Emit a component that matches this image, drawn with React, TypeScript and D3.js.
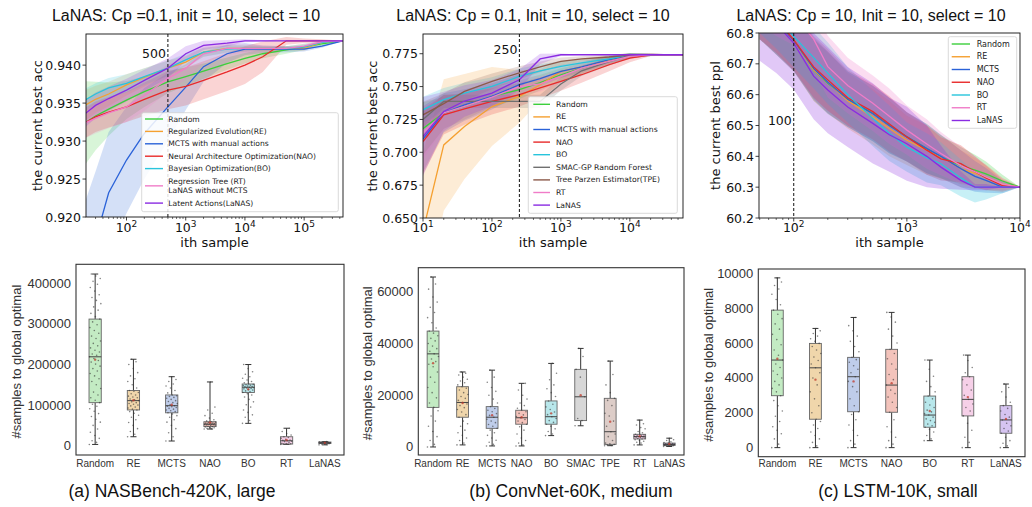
import React from 'react'
import * as d3 from 'd3'

// ---------- colours ----------
const cRandom = '#3ccf3c'
const cRE = '#f5a030'
const cMCTS = '#2a62d8'
const cNAO = '#e82a2a'
const cBO = '#28c4dc'
const cRT = '#f07cc8'
const cLaNAS = '#8a2be2'
const cSMAC = '#707070'
const cTPE = '#8c5a4a'

// ---------- (a) NASBench curves ----------
const nasSamples = [20, 30, 50, 100, 200, 500, 1000, 2000, 5000, 1e4, 2e4, 5e4, 1e5, 2e5, 4.5e5]
const nasRandom = [0.9324, 0.9333, 0.9342, 0.9354, 0.9365, 0.9378, 0.9385, 0.9392, 0.9402, 0.9409, 0.9415, 0.9420, 0.9424, 0.9428, 0.9432]
const nasRE = [0.9347, 0.9355, 0.9362, 0.9374, 0.9384, 0.9396, 0.9404, 0.9417, 0.9422, 0.9422, 0.9422, 0.9422, 0.9422, 0.9430, 0.9432]
const nasMCTS = [0.912, 0.917, 0.9232, 0.9275, 0.931, 0.9345, 0.9371, 0.9398, 0.9415, 0.9421, 0.9421, 0.9421, 0.9421, 0.9425, 0.9432]
const nasNAO = [0.9324, 0.9332, 0.9338, 0.9345, 0.9355, 0.9367, 0.9372, 0.9380, 0.9391, 0.9400, 0.9411, 0.9432, 0.9432, 0.9432, 0.9432]
const nasBO = [0.9354, 0.9362, 0.9370, 0.9376, 0.9385, 0.9396, 0.9407, 0.9417, 0.9421, 0.9422, 0.9422, 0.9422, 0.9424, 0.9430, 0.9432]
const nasRT = [0.9324, 0.9330, 0.9337, 0.9345, 0.9360, 0.93825, 0.9396, 0.9415, 0.9422, 0.9422, 0.9422, 0.9422, 0.9425, 0.9431, 0.9432]
const nasLaNAS = [0.9336, 0.9347, 0.9356, 0.9367, 0.9380, 0.9396, 0.9415, 0.9426, 0.9429, 0.9432, 0.9432, 0.9432, 0.9432, 0.9432, 0.9432]
const nasRandomSd = [0.0055, 0.0045, 0.0035, 0.0025, 0.002, 0.0015, 0.0012, 0.001, 0.0008, 0.0007, 0.0006, 0.0005, 0.0004, 0.0003, 0]
const nasRESd = [0.002, 0.0018, 0.0016, 0.0014, 0.0012, 0.001, 0.0008, 0.0006, 0.0005, 0.0004, 0.0003, 0.0003, 0.0003, 0.0002, 0]
const nasMCTSSd = [0.01, 0.009, 0.008, 0.007, 0.006, 0.0045, 0.003, 0.002, 0.0012, 0.0008, 0.0005, 0.0004, 0.0003, 0.0002, 0]
const nasNAOSd = [0.002, 0.002, 0.002, 0.002, 0.0022, 0.0025, 0.0025, 0.0025, 0.0025, 0.0025, 0.002, 0.0005, 0.0003, 0.0002, 0]
const nasBOSd = [0.0015, 0.0014, 0.0013, 0.0012, 0.0011, 0.001, 0.0008, 0.0006, 0.0005, 0.0004, 0.0003, 0.0003, 0.0003, 0.0002, 0]
const nasRTSd = [0.002, 0.002, 0.002, 0.002, 0.002, 0.0018, 0.0015, 0.0012, 0.0008, 0.0006, 0.0004, 0.0003, 0.0003, 0.0002, 0]
const nasLaNASSd = [0.0018, 0.0017, 0.0016, 0.0015, 0.0014, 0.0013, 0.001, 0.0006, 0.0004, 0.0002, 0.0001, 0, 0, 0, 0]

// ---------- (b) ConvNet curves ----------
const convSamples = [10, 20, 40, 100, 250, 500, 1000, 2000, 5000, 10000, 20000, 60000]
const convRandom = [0.718, 0.730, 0.735, 0.7425, 0.7476, 0.753, 0.759, 0.764, 0.770, 0.7735, 0.774, 0.7742]
const convRE = [0.640, 0.7056, 0.7196, 0.7348, 0.7425, 0.7514, 0.7615, 0.765, 0.770, 0.7735, 0.7742, 0.7742]
const convMCTS = [0.710, 0.730, 0.736, 0.7425, 0.7514, 0.756, 0.7615, 0.765, 0.7705, 0.7735, 0.7742, 0.7742]
const convNAO = [0.7082, 0.7285, 0.733, 0.7387, 0.7438, 0.749, 0.7539, 0.759, 0.7666, 0.7716, 0.7742, 0.7742]
const convBO = [0.7323, 0.740, 0.745, 0.7501, 0.7577, 0.762, 0.7653, 0.768, 0.771, 0.7742, 0.7742, 0.7742]
const convSMAC = [0.725, 0.7387, 0.7387, 0.7387, 0.7387, 0.7387, 0.752, 0.762, 0.769, 0.7735, 0.7742, 0.7742]
const convTPE = [0.7285, 0.737, 0.7463, 0.754, 0.7605, 0.765, 0.7691, 0.771, 0.7725, 0.774, 0.7742, 0.7742]
const convRT = [0.715, 0.730, 0.735, 0.742, 0.750, 0.752, 0.7577, 0.764, 0.7691, 0.773, 0.7742, 0.7742]
const convLaNAS = [0.712, 0.7311, 0.739, 0.745, 0.7552, 0.771, 0.7742, 0.7742, 0.7742, 0.7742, 0.7742, 0.7742]
const convRandomSd = [0.02, 0.012, 0.01, 0.008, 0.007, 0.006, 0.005, 0.004, 0.003, 0.002, 0.001, 0]
const convRESd = [0.06, 0.05, 0.04, 0.03, 0.02, 0.012, 0.008, 0.006, 0.004, 0.002, 0.001, 0]
const convMCTSSd = [0.025, 0.015, 0.012, 0.01, 0.008, 0.006, 0.005, 0.004, 0.003, 0.002, 0.001, 0]
const convNAOSd = [0.025, 0.015, 0.012, 0.01, 0.009, 0.008, 0.007, 0.006, 0.005, 0.003, 0.001, 0]
const convBOSd = [0.01, 0.009, 0.008, 0.007, 0.006, 0.005, 0.004, 0.003, 0.002, 0.001, 0.0005, 0]
const convSMACSd = [0.006, 0.005, 0.005, 0.005, 0.005, 0.005, 0.005, 0.004, 0.003, 0.002, 0.001, 0]
const convTPESd = [0.01, 0.008, 0.007, 0.006, 0.005, 0.004, 0.003, 0.002, 0.002, 0.001, 0.0005, 0]
const convRTSd = [0.02, 0.012, 0.01, 0.008, 0.007, 0.006, 0.005, 0.004, 0.003, 0.002, 0.001, 0]
const convLaNASSd = [0.03, 0.015, 0.012, 0.01, 0.008, 0.004, 0.001, 0, 0, 0, 0, 0]

// ---------- (c) LSTM curves ----------
const lstmSamples = [50, 70, 100, 150, 200, 300, 500, 700, 1000, 1500, 2000, 3000, 4000, 5000, 7000, 10000]
const lstmRandom = [60.90, 60.84, 60.778, 60.68, 60.637, 60.585, 60.539, 60.50, 60.463, 60.425, 60.398, 60.37, 60.355, 60.343, 60.32, 60.30]
const lstmRE = [60.90, 60.84, 60.775, 60.68, 60.64, 60.58, 60.528, 60.49, 60.452, 60.42, 60.398, 60.36, 60.345, 60.333, 60.31, 60.30]
const lstmMCTS = [60.90, 60.84, 60.775, 60.685, 60.64, 60.585, 60.539, 60.50, 60.463, 60.425, 60.40, 60.36, 60.335, 60.322, 60.30, 60.30]
const lstmNAO = [60.90, 60.845, 60.778, 60.69, 60.648, 60.59, 60.545, 60.505, 60.463, 60.42, 60.392, 60.376, 60.35, 60.33, 60.305, 60.30]
const lstmBO = [60.92, 60.86, 60.789, 60.72, 60.67, 60.60, 60.523, 60.475, 60.43, 60.395, 60.376, 60.33, 60.30, 60.30, 60.30, 60.30]
const lstmRT = [60.95, 60.90, 60.86, 60.78, 60.691, 60.63, 60.572, 60.53, 60.485, 60.44, 60.409, 60.37, 60.35, 60.333, 60.31, 60.30]
const lstmLaNAS = [60.88, 60.83, 60.767, 60.66, 60.615, 60.56, 60.507, 60.47, 60.441, 60.40, 60.365, 60.322, 60.30, 60.30, 60.30, 60.30]
const lstmSd = [0.12, 0.11, 0.1, 0.1, 0.1, 0.09, 0.09, 0.09, 0.08, 0.08, 0.07, 0.06, 0.05, 0.04, 0.02, 0]
const lstmLaNASSd = [0.17, 0.16, 0.15, 0.14, 0.14, 0.13, 0.13, 0.12, 0.12, 0.1, 0.07, 0.03, 0.01, 0.01, 0, 0]

// ---------- bottom row: samples to global optimal ----------
// stats are [min, q1, median, q3, max]
const nasCats = ['Random', 'RE', 'MCTS', 'NAO', 'BO', 'RT', 'LaNAS']
const nasStats = [
  [3000, 106000, 219000, 312000, 423000],
  [22000, 88000, 111000, 136000, 213000],
  [11500, 81000, 98500, 125000, 170000],
  [41000, 47000, 53000, 59000, 157000],
  [55000, 131000, 144000, 152000, 200000],
  [3000, 4000, 12000, 22000, 43000],
  [2000, 5500, 7000, 9000, 10000],
]
const nasMeans = [212000, 112000, 101000, 57000, 139000, 14000, 7000]
const nasPoints = [
  [3000, 8000, 12000, 18000, 25000, 33000, 41000, 50000, 58000, 65000, 72000, 79000, 85000, 91000, 97000, 102000,
    106000, 112000, 118000, 125000, 132000, 141000, 150000, 158000, 165000, 172000, 178000, 184000, 190000, 196000, 201000, 206000, 210000, 215000,
    219000, 223000, 226000, 231000, 235000, 241000, 246000, 252000, 258000, 264000, 270000, 277000, 284000, 291000, 298000, 305000,
    312000, 318000, 326000, 334000, 342000, 350000, 358000, 365000, 372000, 381000, 390000, 398000, 405000, 412000, 418000, 423000],
  [22000, 28000, 35000, 42000, 50000, 57000, 64000, 70000, 75000, 80000, 84000, 88000, 90000, 93000, 95000, 98000, 100000, 102000, 104000, 106000, 108000,
    111000, 113000, 115000, 118000, 120000, 122000, 125000, 128000, 131000, 134000, 136000, 142000, 150000, 158000, 165000, 172000, 180000, 190000, 200000, 207000, 213000],
  [11500, 22000, 32000, 42000, 50000, 58000, 64000, 70000, 74000, 78000, 81000, 84000, 86000, 88000, 90000, 92000, 94000, 96000, 97000, 98500,
    101000, 104000, 106000, 109000, 111000, 114000, 117000, 119000, 121000, 123000, 125000, 130000, 136000, 142000, 147000, 152000, 158000, 163000, 170000],
  [41000, 42000, 43000, 44000, 45000, 46000, 47000, 48000, 49000, 50000, 51000, 51500, 52000, 52500, 53000, 53500, 54000, 55000, 55500, 56000,
    57000, 58000, 59000, 61000, 64000, 68000, 74000, 80000, 88000, 95000, 157000],
  [55000, 62000, 70000, 76000, 82000, 88000, 95000, 101000, 108000, 114000, 120000, 125000, 128000, 131000, 133000, 135000, 137000, 138000, 140000, 141000,
    142000, 143000, 144000, 145000, 146000, 147000, 148000, 149000, 150000, 151000, 152000, 155000, 158000, 162000, 166000, 170000, 176000, 182000, 190000, 200000],
  [3000, 3500, 4000, 4500, 5000, 6000, 8000, 10000, 11000, 12000, 13000, 14000, 16000, 18000, 20000, 22000, 26000, 30000, 35000, 43000],
  [2000, 3000, 4000, 5000, 5500, 6000, 6500, 7000, 7200, 7500, 8000, 8500, 9000, 9500, 10000],
]

const convCats = ['Random', 'RE', 'MCTS', 'NAO', 'BO', 'SMAC', 'TPE', 'RT', 'LaNAS']
const convStats = [
  [0, 15300, 36000, 44800, 65700],
  [800, 11500, 17200, 23300, 29000],
  [400, 7200, 11500, 15600, 29700],
  [400, 8800, 11300, 14200, 24600],
  [4400, 8800, 11700, 17800, 32300],
  [8200, 10200, 19400, 30000, 38100],
  [500, 1000, 5900, 18800, 33200],
  [800, 3100, 4000, 4900, 10400],
  [200, 600, 1000, 1500, 3400],
]
const convMeans = [32400, 17000, 12300, 11500, 13000, 20000, 9800, 4200, 1200]
const convPoints = [
  [0, 1000, 2500, 4000, 6000, 8000, 10000, 12000, 14000, 15300, 17000, 19000, 21000, 23000, 25000, 27000, 29000, 31000, 32000, 33000, 34000, 35000,
    36000, 37000, 38000, 39000, 40000, 41000, 42000, 43000, 44000, 44800, 46000, 48000, 50000, 52000, 54000, 56000, 58000, 61000, 63000, 65700],
  [800, 1500, 2500, 3500, 4500, 5500, 6500, 8000, 9000, 10000, 11500, 12500, 13500, 14500, 15200, 16000, 16600, 17200, 18000, 18800, 19500,
    20300, 21000, 22000, 22700, 23300, 24000, 24800, 25500, 26200, 27000, 27800, 28500, 29000],
  [400, 1000, 1800, 2600, 3500, 4500, 5500, 6500, 7200, 8000, 8700, 9400, 10000, 10700, 11500, 12200, 12900, 13600, 14200, 14900, 15600,
    17000, 18500, 20000, 21500, 23000, 25000, 27000, 29700],
  [400, 800, 1500, 2500, 3500, 5000, 6500, 7800, 8800, 9400, 10000, 10600, 11300, 11800, 12400, 13000, 13600, 14200, 15000, 16000, 17000,
    18500, 20000, 22000, 24600],
  [4400, 5000, 6000, 7000, 8000, 8800, 9500, 10200, 11000, 11700, 12500, 13500, 14500, 15500, 16500, 17800, 19500, 21000, 22500, 24000, 26000, 28500, 32300],
  [8200, 10200, 11000, 19400, 27000, 30000, 35000, 38100],
  [500, 600, 800, 1000, 1200, 1500, 2500, 4000, 5000, 5900, 8000, 10000, 12000, 13000, 16000, 18000, 18800, 21000, 24000, 28000, 33200],
  [800, 1500, 1800, 2200, 2500, 2800, 3100, 3300, 3500, 3700, 3800, 3900, 4000, 4100, 4300, 4500, 4600, 4800, 4900, 5500, 6000, 7000, 7500, 8500, 9000, 10400],
  [200, 300, 400, 500, 600, 700, 800, 900, 1000, 1100, 1200, 1300, 1500, 1700, 2000, 2500, 2800, 3400],
]

const lstmCats = ['Random', 'RE', 'MCTS', 'NAO', 'BO', 'RT', 'LaNAS']
const lstmStats = [
  [0, 2980, 5025, 7890, 9740],
  [0, 1630, 4580, 5980, 6840],
  [0, 2060, 4070, 5180, 7470],
  [0, 2030, 3590, 5640, 7760],
  [400, 1170, 1870, 2960, 5025],
  [0, 1820, 2770, 4070, 5310],
  [0, 825, 1590, 2410, 3650],
]
const lstmMeans = [5100, 3900, 3800, 3700, 2100, 2900, 1650]
const lstmPoints = [
  [0, 200, 500, 800, 1000, 1200, 1500, 1800, 2100, 2400, 2700, 2980, 3200, 3400, 3600, 3800, 4000, 4200, 4400, 4600, 4800,
    5025, 5300, 5600, 5900, 6200, 6500, 6800, 7100, 7400, 7650, 7890, 8200, 8500, 8800, 9100, 9300, 9500, 9740],
  [0, 100, 300, 500, 700, 900, 1100, 1300, 1500, 1630, 2000, 2400, 2800, 3200, 3600, 4000, 4300, 4580, 4800, 5000, 5200, 5400, 5600,
    5800, 5980, 6100, 6250, 6400, 6550, 6700, 6840],
  [0, 200, 400, 700, 1000, 1300, 1600, 1900, 2060, 2400, 2800, 3200, 3500, 3800, 4070, 4300, 4500, 4700, 4900, 5050, 5180,
    5500, 5800, 6100, 6400, 6700, 7000, 7470],
  [0, 200, 400, 600, 900, 1200, 1600, 2030, 2300, 2600, 2900, 3100, 3300, 3590, 3900, 4200, 4500, 4800, 5100, 5400, 5640,
    6000, 6400, 6800, 7200, 7500, 7760],
  [400, 500, 700, 900, 1050, 1170, 1250, 1350, 1450, 1550, 1650, 1750, 1870, 1950, 2050, 2150, 2300, 2450, 2600, 2800, 2960,
    3200, 3500, 3800, 4100, 4500, 5025],
  [0, 300, 600, 1000, 1400, 1820, 2100, 2300, 2500, 2770, 3000, 3300, 3600, 3900, 4070, 4300, 4600, 5000, 5310],
  [0, 100, 250, 400, 600, 825, 950, 1100, 1250, 1400, 1590, 1750, 1900, 2100, 2250, 2410, 2600, 2900, 3200, 3450, 3650],
]

const boxFill: Record<string, string> = {
  Random: '#c3ebc3', RE: '#f0d6ab', MCTS: '#bfcdea', NAO: '#f3c3bb', BO: '#b8e7eb',
  RT: '#f6d0e8', LaNAS: '#d6c4f1', SMAC: '#d7d7d7', TPE: '#ddcdc8',
}

const DJ = '"DejaVu Sans", sans-serif'
const AR = '"Liberation Sans", Arial, sans-serif'

function LinePanel({ p }: any) {
  const x = d3.scaleLog().domain(p.xDomain).range([p.left, p.right])
  const y = d3.scaleLinear().domain(p.yDomain).range([p.bottom, p.top])
  const lineGen = d3.line<number>().x((_, i) => x(p.samples[i])).y(m => y(m))
  const areaGen = (s: any) => d3.area<number>()
    .x((_, i) => x(p.samples[i]))
    .y0((m, i) => y(m - s.spread[i]))
    .y1((m, i) => y(m + s.spread[i]))(s.mean)

  const lo = Math.log10(p.xDomain[0]), hi = Math.log10(p.xDomain[1])
  const majors: number[] = []
  const minors: number[] = []
  for (let e = Math.floor(lo); e <= Math.floor(hi); e++) {
    if (e >= lo - 1e-9) majors.push(e)
    for (let k = 2; k <= 9; k++) {
      const v = k * Math.pow(10, e)
      if (v >= p.xDomain[0] && v <= p.xDomain[1]) minors.push(v)
    }
  }
  const L = p.legend
  let cursor = L.firstY - L.step / 2
  const rows = p.series.map((s: any) => {
    const h = L.step + (s.name.length - 1) * L.lineH
    const c = cursor + h / 2
    cursor += h
    return { s, c }
  })

  return (
    <g>
      <defs>
        <clipPath id={p.id}>
          <rect x={p.left} y={p.top} width={p.right - p.left} height={p.bottom - p.top} />
        </clipPath>
      </defs>
      <text x={p.titleX} y={21} textAnchor="middle" fontFamily={AR} fontSize={16} fill="#111">{p.title}</text>
      <g clipPath={`url(#${p.id})`}>
        {p.series.map((s: any, i: number) => (
          <path key={'a' + i} d={areaGen(s) || ''} fill={s.color} fillOpacity={p.bandOpacity} stroke="none" />
        ))}
        {p.series.map((s: any, i: number) => (
          <path key={'l' + i} d={lineGen(s.mean) || ''} fill="none" stroke={s.color} strokeWidth={1.3} />
        ))}
      </g>
      <line x1={x(p.marker.x)} x2={x(p.marker.x)} y1={p.top} y2={p.bottom} stroke="#111" strokeWidth={1} strokeDasharray="3,2" />
      <text x={x(p.marker.x) - 2} y={p.marker.labelY} textAnchor="end" fontFamily={DJ} fontSize={12.5} fill="#111">{p.marker.label}</text>
      <rect x={p.left} y={p.top} width={p.right - p.left} height={p.bottom - p.top} fill="none" stroke="#111" strokeWidth={0.9} />
      {/* legend */}
      <rect x={L.x} y={L.y} width={L.w} height={L.h} rx={2} fill="#fff" fillOpacity={0.85} stroke="#d0d0d0" strokeWidth={0.8} />
      {rows.map(({ s, c }: any, i: number) => (
        <g key={'g' + i}>
          <line x1={L.lineX0} x2={L.lineX1} y1={c} y2={c} stroke={s.color} strokeWidth={1.4} />
          {s.name.map((t: string, j: number) => (
            <text key={j} x={L.textX} y={c + (j - (s.name.length - 1) / 2) * L.lineH} dominantBaseline="central"
              fontFamily={DJ} fontSize={L.font} fill="#222">{t}</text>
          ))}
        </g>
      ))}
      {/* y axis */}
      {p.yTicks.map((t: number) => (
        <g key={'y' + t}>
          <line x1={p.left - 3.5} x2={p.left} y1={y(t)} y2={y(t)} stroke="#111" strokeWidth={0.8} />
          <text x={p.left - 5} y={y(t)} dominantBaseline="central" textAnchor="end" fontFamily={DJ} fontSize={12.5} fill="#111">{p.yFmt(t)}</text>
        </g>
      ))}
      {/* x axis */}
      {minors.map(v => (
        <line key={'m' + v} x1={x(v)} x2={x(v)} y1={p.bottom} y2={p.bottom + 2} stroke="#111" strokeWidth={0.6} />
      ))}
      {majors.map(e => (
        <g key={'x' + e}>
          <line x1={x(Math.pow(10, e))} x2={x(Math.pow(10, e))} y1={p.bottom} y2={p.bottom + 3.5} stroke="#111" strokeWidth={0.8} />
          <text x={x(Math.pow(10, e))} y={231.5} textAnchor="middle" fontFamily={DJ} fontSize={12.5} fill="#111">
            10<tspan dy={-5} fontSize={9}>{e}</tspan>
          </text>
        </g>
      ))}
      <text x={(p.left + p.right) / 2} y={247} textAnchor="middle" fontFamily={DJ} fontSize={13} fill="#111">ith sample</text>
      <text transform={`translate(${p.ylabelX},${(p.top + p.bottom) / 2}) rotate(-90)`} textAnchor="middle"
        dominantBaseline="central" fontFamily={DJ} fontSize={13} fill="#111">{p.ylabel}</text>
    </g>
  )
}

function BoxPanel({ p }: any) {
  const x = d3.scaleBand().domain(p.cats).range([p.left, p.right]).padding(0)
  const y = d3.scaleLinear().domain(p.yDomain).range([p.bottom, p.top])
  const bw = x.bandwidth() * p.boxFrac
  return (
    <g>
      {p.cats.map((c: string, i: number) => {
        const [mn, q1, md, q3, mx] = p.stats[i]
        const cx = x(c)! + x.bandwidth() / 2
        return (
          <g key={c}>
            <line x1={cx} x2={cx} y1={y(mx)} y2={y(q3)} stroke="#333" strokeWidth={1} />
            <line x1={cx} x2={cx} y1={y(q1)} y2={y(mn)} stroke="#333" strokeWidth={1} />
            <line x1={cx - bw / 4} x2={cx + bw / 4} y1={y(mx)} y2={y(mx)} stroke="#333" strokeWidth={1} />
            <line x1={cx - bw / 4} x2={cx + bw / 4} y1={y(mn)} y2={y(mn)} stroke="#333" strokeWidth={1} />
            <rect x={cx - bw / 2} y={y(q3)} width={bw} height={Math.max(1, y(q1) - y(q3))} fill={boxFill[c]} stroke="#666" strokeWidth={0.9} />
            <line x1={cx - bw / 2} x2={cx + bw / 2} y1={y(md)} y2={y(md)} stroke="#444" strokeWidth={1} />
            {p.points[i].map((v: number, j: number) => {
              const off = (((j * 0.6180339) % 1) - 0.5) * bw * 0.95
              return <circle key={j} cx={cx + off} cy={y(v)} r={0.8} fill="#333" fillOpacity={0.6} />
            })}
            <circle cx={cx} cy={y(p.means[i])} r={1.2} fill="#c0392b" fillOpacity={0.75} />
            <text x={cx} y={467} textAnchor="middle" fontFamily={AR} fontSize={10} fill="#333">{c}</text>
          </g>
        )
      })}
      <rect x={p.left} y={p.top} width={p.right - p.left} height={p.bottom - p.top} fill="none" stroke="#333" strokeWidth={1.1} />
      {p.yTicks.map((t: number) => (
        <text key={t} x={p.left - 5} y={y(t)} textAnchor="end" dominantBaseline="central" fontFamily={AR} fontSize={13} fill="#333">{t}</text>
      ))}
      <text transform={`translate(${p.ylabelX},${(p.top + p.bottom) / 2 + 2}) rotate(-90)`} textAnchor="middle"
        dominantBaseline="central" fontFamily={AR} fontSize={13} fill="#333">#samples to global optimal</text>
      <text x={p.captionX} y={497} textAnchor="middle" fontFamily={AR} fontSize={17.5} fill="#111">{p.caption}</text>
    </g>
  )
}

const nasPanel = {
  id: 'clipNas', left: 86, right: 343, top: 34, bottom: 217,
  xDomain: [20.7, 453000], yDomain: [0.920, 0.9441],
  yTicks: [0.920, 0.925, 0.930, 0.935, 0.940], yFmt: d3.format('.3f'),
  samples: nasSamples, bandOpacity: 0.2,
  series: [
    { name: ['Random'], color: cRandom, mean: nasRandom, spread: nasRandomSd },
    { name: ['Regularized Evolution(RE)'], color: cRE, mean: nasRE, spread: nasRESd },
    { name: ['MCTS with manual actions'], color: cMCTS, mean: nasMCTS, spread: nasMCTSSd },
    { name: ['Neural Architecture Optimization(NAO)'], color: cNAO, mean: nasNAO, spread: nasNAOSd },
    { name: ['Bayesian Optimization(BO)'], color: cBO, mean: nasBO, spread: nasBOSd },
    { name: ['Regression Tree (RT)', 'LaNAS without MCTS'], color: cRT, mean: nasRT, spread: nasRTSd },
    { name: ['Latent Actions(LaNAS)'], color: cLaNAS, mean: nasLaNAS, spread: nasLaNASSd },
  ],
  marker: { x: 500, label: '500', labelY: 58 },
  legend: { x: 141.7, y: 112.7, w: 196.6, h: 99, firstY: 119, step: 12.4, lineH: 9.7, lineX0: 145, lineX1: 163, textX: 168.3, font: 7.6 },
  title: 'LaNAS: Cp =0.1, init = 10, select = 10', titleX: 186,
  ylabel: 'the current best acc', ylabelX: 37,
}

const convPanel = {
  id: 'clipConv', left: 423, right: 683, top: 34, bottom: 218,
  xDomain: [10, 59000], yDomain: [0.650, 0.790],
  yTicks: [0.650, 0.675, 0.700, 0.725, 0.750, 0.775], yFmt: d3.format('.3f'),
  samples: convSamples, bandOpacity: 0.2,
  series: [
    { name: ['Random'], color: cRandom, mean: convRandom, spread: convRandomSd },
    { name: ['RE'], color: cRE, mean: convRE, spread: convRESd },
    { name: ['MCTS with manual actions'], color: cMCTS, mean: convMCTS, spread: convMCTSSd },
    { name: ['NAO'], color: cNAO, mean: convNAO, spread: convNAOSd },
    { name: ['BO'], color: cBO, mean: convBO, spread: convBOSd },
    { name: ['SMAC-GP Random Forest'], color: cSMAC, mean: convSMAC, spread: convSMACSd },
    { name: ['Tree Parzen Estimator(TPE)'], color: cTPE, mean: convTPE, spread: convTPESd },
    { name: ['RT'], color: cRT, mean: convRT, spread: convRTSd },
    { name: ['LaNAS'], color: cLaNAS, mean: convLaNAS, spread: convLaNASSd },
  ],
  marker: { x: 250, label: '250', labelY: 54 },
  legend: { x: 528.3, y: 96.7, w: 149, h: 116.6, firstY: 104.3, step: 12.6, lineH: 9.7, lineX0: 533.3, lineX1: 550, textX: 556, font: 7.7 },
  title: 'LaNAS: Cp = 0.1, Init = 10, select = 10', titleX: 533,
  ylabel: 'the current best acc', ylabelX: 372,
}

const lstmPanel = {
  id: 'clipLstm', left: 759, right: 1020, top: 33, bottom: 218,
  xDomain: [49.3, 10000], yDomain: [60.2, 60.8],
  yTicks: [60.2, 60.3, 60.4, 60.5, 60.6, 60.7, 60.8], yFmt: d3.format('.1f'),
  samples: lstmSamples, bandOpacity: 0.26,
  series: [
    { name: ['Random'], color: cRandom, mean: lstmRandom, spread: lstmSd },
    { name: ['RE'], color: cRE, mean: lstmRE, spread: lstmSd },
    { name: ['MCTS'], color: cMCTS, mean: lstmMCTS, spread: lstmSd },
    { name: ['NAO'], color: cNAO, mean: lstmNAO, spread: lstmSd },
    { name: ['BO'], color: cBO, mean: lstmBO, spread: lstmSd },
    { name: ['RT'], color: cRT, mean: lstmRT, spread: lstmSd },
    { name: ['LaNAS'], color: cLaNAS, mean: lstmLaNAS, spread: lstmLaNASSd },
  ],
  marker: { x: 100, label: '100', labelY: 125 },
  legend: { x: 948.3, y: 36.7, w: 68.4, h: 91.6, firstY: 44, step: 12.75, lineH: 9.7, lineX0: 951.7, lineX1: 970, textX: 976.7, font: 8 },
  title: 'LaNAS: Cp = 10, Init = 10, select = 10', titleX: 871,
  ylabel: 'the current best ppl', ylabelX: 715,
}

const nasBox = {
  left: 76, right: 344, top: 264.3, bottom: 455, yDomain: [-23000, 447000],
  yTicks: [0, 100000, 200000, 300000, 400000], cats: nasCats, stats: nasStats, points: nasPoints, means: nasMeans,
  boxFrac: 0.32, ylabelX: 16, caption: '(a) NASBench-420K, large', captionX: 172,
}
const convBox = {
  left: 418.3, right: 684, top: 267.7, bottom: 455, yDomain: [-3100, 69300],
  yTicks: [0, 20000, 40000, 60000], cats: convCats, stats: convStats, points: convPoints, means: convMeans,
  boxFrac: 0.4, ylabelX: 367, caption: '(b) ConvNet-60K, medium', captionX: 571,
}
const lstmBox = {
  left: 758.3, right: 1025, top: 269, bottom: 456.7, yDomain: [-520, 10250],
  yTicks: [0, 2000, 4000, 6000, 8000, 10000], cats: lstmCats, stats: lstmStats, points: lstmPoints, means: lstmMeans,
  boxFrac: 0.31, ylabelX: 708, caption: '(c) LSTM-10K, small', captionX: 898,
}

export default function App() {
  return (
    <svg width={1032} height={507} style={{ position: 'absolute', left: 0, top: 0, background: '#fff' }}>
      <rect width={1032} height={507} fill="#fff" />
      <LinePanel p={nasPanel} />
      <LinePanel p={convPanel} />
      <LinePanel p={lstmPanel} />
      <BoxPanel p={nasBox} />
      <BoxPanel p={convBox} />
      <BoxPanel p={lstmBox} />
    </svg>
  )
}
